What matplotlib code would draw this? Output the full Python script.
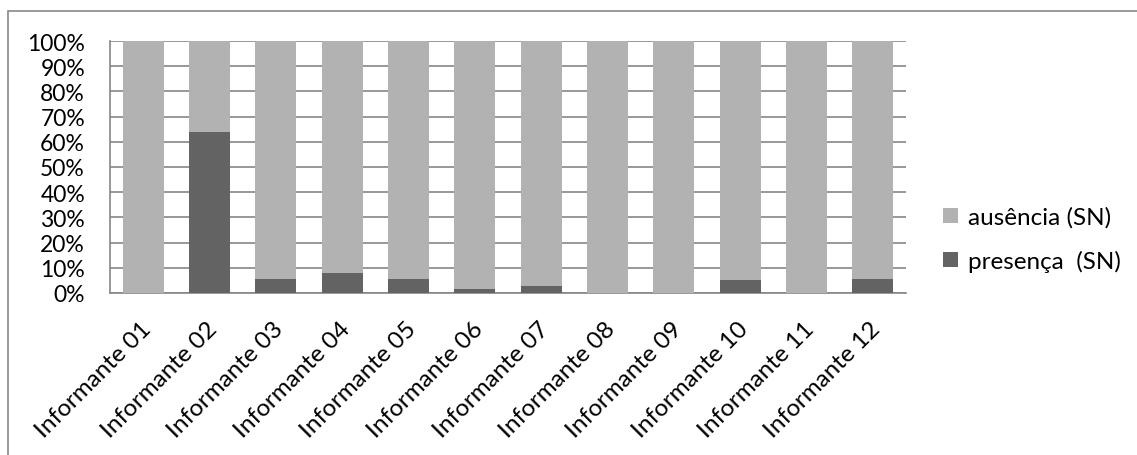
import matplotlib.pyplot as plt
import matplotlib.transforms as mtransforms
import numpy as np
from matplotlib.patches import Rectangle

# dados (%)
informantes = ['Informante 01', 'Informante 02', 'Informante 03', 'Informante 04',
               'Informante 05', 'Informante 06', 'Informante 07', 'Informante 08',
               'Informante 09', 'Informante 10', 'Informante 11', 'Informante 12']
presenca = [0, 64, 5.7, 7.9, 5.7, 1.6, 2.7, 0, 0, 5.0, 0, 5.4]
ausencia = [100 - p for p in presenca]
y_ticks = list(range(0, 101, 10))

plt.rcParams['font.family'] = ['Lato', 'DejaVu Sans']

fig = plt.figure(figsize=(11.37, 4.56), dpi=100)
ax = fig.add_axes([110 / 1137, 1 - 294 / 456, (906 - 110) / 1137, (294 - 42) / 456])

x = np.arange(len(informantes))
ax.bar(x, presenca, width=0.62, color='#636363', label='presença  (SN)', zorder=3)
ax.bar(x, ausencia, width=0.62, bottom=presenca, color='#b2b2b2',
       label='ausência (SN)', zorder=3)

ax.set_xlim(-0.5, len(informantes) - 0.5)
ax.set_ylim(0, 100)
ax.set_yticks(y_ticks)
ax.set_yticklabels([f'{v}%' for v in y_ticks], fontsize=16.5)
ax.yaxis.grid(True, color='#868686', linewidth=1.2, zorder=0)
ax.tick_params(axis='y', length=0, pad=18)
ax.tick_params(axis='x', length=0, pad=5)
ax.set_xticks(x)
ax.set_xticklabels(informantes, rotation=45, ha='right', rotation_mode='anchor', fontsize=17.5)
shift = mtransforms.ScaledTranslation(-0.03, -0.18, fig.dpi_scale_trans)
for lbl in ax.get_xticklabels():
    lbl.set_transform(lbl.get_transform() + shift)

for s in ['top', 'right']:
    ax.spines[s].set_visible(False)
for s in ['left', 'bottom']:
    ax.spines[s].set_color('#868686')
    ax.spines[s].set_linewidth(1.2)

handles, labels = ax.get_legend_handles_labels()
ax.legend(handles[::-1], labels[::-1], loc='center left', bbox_to_anchor=(0.047 + 1, 0.214),
          frameon=False, fontsize=17.5, handlelength=0.6, handleheight=0.6,
          labelspacing=0.9, handletextpad=0.4, borderpad=0, borderaxespad=0)

# moldura externa
fig.patches.append(Rectangle((8 / 1137, -0.1), 1.2, 1 - 12 / 456 + 0.1,
                             transform=fig.transFigure, fill=False,
                             edgecolor='#888888', linewidth=1.2))

fig.savefig('out.png', dpi=100)
